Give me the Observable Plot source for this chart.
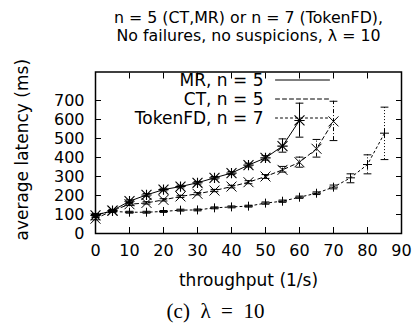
<!DOCTYPE html>
<html>
<head>
<meta charset="utf-8">
<script src="https://cdn.jsdelivr.net/npm/d3@7"></script>
<script src="https://cdn.jsdelivr.net/npm/@observablehq/plot@0.6"></script>
<style>
  html, body { margin: 0; padding: 0; background: #fff; }
  #chart svg { display: block; }
</style>
</head>
<body>
<div id="chart"></div>
<script>
// ---- data ----
const titleLine1 = "n = 5 (CT,MR) or n = 7 (TokenFD),";
const titleLine2 = "No failures, no suspicions, \u03bb = 10";
const xLabel = "throughput (1/s)";
const yLabel = "average latency (ms)";
const caption = "(c)\u2002\u03bb\u2002=\u200210";
const xTicks = [0, 10, 20, 30, 40, 50, 60, 70, 80, 90];
const yTicks = [0, 100, 200, 300, 400, 500, 600, 700];
const seriesNames = ["MR, n = 5", "CT, n = 5", "TokenFD, n = 7"];

const mrX  = [0, 5, 10, 15, 20, 25, 30, 35, 40, 45, 50, 55, 60];
const mrY  = [95, 121, 170, 203, 231, 247, 267, 293, 318, 360, 398, 460, 595];
const mrLo = [88, 115, 163, 196, 224, 240, 260, 286, 310, 350, 386, 428, 507];
const mrHi = [102, 127, 177, 210, 238, 254, 274, 300, 326, 370, 410, 498, 686];

const ctX  = [0, 5, 10, 15, 20, 25, 30, 35, 40, 45, 50, 55, 60, 65, 70];
const ctY  = [78, 120, 154, 161, 177, 195, 209, 226, 247, 270, 300, 335, 375, 446, 590];
const ctLo = [72, 114, 148, 155, 171, 189, 203, 220, 240, 262, 290, 323, 349, 402, 489];
const ctHi = [84, 126, 160, 167, 183, 201, 215, 232, 254, 278, 310, 353, 402, 495, 696];

const tokX  = [0, 5, 10, 15, 20, 25, 30, 35, 40, 45, 50, 55, 60, 65, 70, 75, 80, 85];
const tokY  = [100, 116, 112, 112, 116, 123, 124, 135, 140, 144, 160, 170, 191, 212, 244, 293, 363, 528];
const tokLo = [95, 111, 107, 107, 111, 118, 119, 130, 135, 139, 154, 164, 185, 205, 235, 267, 314, 389];
const tokHi = [105, 121, 117, 117, 121, 128, 129, 140, 145, 149, 166, 176, 197, 219, 255, 314, 414, 665];

// ---- build tables ----
const rows = (xs, ys, lo, hi) => xs.map((x, i) => ({x, y: ys[i], lo: lo[i], hi: hi[i]}));
const mr = rows(mrX, mrY, mrLo, mrHi);
const ct = rows(ctX, ctY, ctLo, ctHi);
const tok = rows(tokX, tokY, tokLo, tokHi);

const lineShape = {draw(ctx, l) { ctx.moveTo(0, 0); ctx.lineTo(0, -l); }};
const font = "DejaVu Sans";
const dashes = {mr: null, ct: "4,3", tok: "2,3"};
const errDash = {mr: null, ct: "4,2,1,2", tok: "1,2"};

function errorBars(data, dash) {
  return [
    Plot.ruleX(data, {x: "x", y1: "lo", y2: "hi", stroke: "black", strokeWidth: 1, strokeDasharray: dash}),
    Plot.vector(data, {x: "x", y: "lo", length: 7, rotate: 90, anchor: "middle", shape: lineShape, stroke: "black", strokeWidth: 1}),
    Plot.vector(data, {x: "x", y: "hi", length: 7, rotate: 90, anchor: "middle", shape: lineShape, stroke: "black", strokeWidth: 1})
  ];
}

const legendDash = [dashes.mr, dashes.ct, dashes.tok];
const legendMarks = seriesNames.flatMap((name, i) => [
  Plot.text([name], {frameAnchor: "top-right", text: d => d, dx: -138, dy: 9 + i * 19, textAnchor: "end", lineAnchor: "middle", fontSize: 17, fill: "black"}),
  Plot.vector([name], {frameAnchor: "top-right", dx: -126, dy: 8 + i * 19, length: 54, rotate: 90, anchor: "start", shape: lineShape, stroke: "black", strokeWidth: 1, strokeDasharray: legendDash[i]})
]);

const chart = Plot.plot({
  width: 415,
  height: 333,
  marginLeft: 95,
  marginRight: 14,
  marginTop: 71.5,
  marginBottom: 100,
  style: {fontFamily: font, fontSize: "16px", color: "black", background: "white"},
  x: {domain: [0, 90]},
  y: {domain: [0, 850]},
  marks: [
    // inward ticks on all four sides
    Plot.axisX(xTicks, {anchor: "bottom", tickSize: -6, fill: "none", label: null, strokeWidth: 1}),
    Plot.axisX(xTicks, {anchor: "top", tickSize: -6, fill: "none", label: null, strokeWidth: 1}),
    Plot.axisY(yTicks, {anchor: "left", tickSize: -6, fill: "none", label: null, strokeWidth: 1}),
    Plot.axisY(yTicks, {anchor: "right", tickSize: -6, fill: "none", label: null, strokeWidth: 1}),
    // tick labels
    Plot.axisX(xTicks, {anchor: "bottom", tickSize: 0, tickPadding: 11, label: null, fontSize: 16, fill: "black"}),
    Plot.axisY(yTicks, {anchor: "left", tickSize: 0, tickPadding: 11, label: null, fontSize: 16, fill: "black"}),
    Plot.frame({stroke: "black", strokeWidth: 1.5}),
    // series lines
    Plot.line(mr, {x: "x", y: "y", stroke: "black", strokeWidth: 1}),
    Plot.line(ct, {x: "x", y: "y", stroke: "black", strokeWidth: 1, strokeDasharray: dashes.ct}),
    Plot.line(tok, {x: "x", y: "y", stroke: "black", strokeWidth: 1, strokeDasharray: dashes.tok}),
    // error bars
    ...errorBars(mr, errDash.mr),
    ...errorBars(ct, errDash.ct),
    ...errorBars(tok, errDash.tok),
    // markers
    Plot.dot(mr, {x: "x", y: "y", symbol: "plus", r: 3.4, stroke: "black", strokeWidth: 1.1}),
    Plot.dot(mr, {x: "x", y: "y", symbol: "times", r: 4.6, stroke: "black", strokeWidth: 1.1}),
    Plot.dot(ct, {x: "x", y: "y", symbol: "times", r: 4.6, stroke: "black", strokeWidth: 1}),
    Plot.dot(tok, {x: "x", y: "y", symbol: "plus", r: 3, stroke: "black", strokeWidth: 1}),
    // legend
    ...legendMarks,
    // titles and labels
    Plot.text([titleLine1], {frameAnchor: "top", text: d => d, dy: -49.5, textAnchor: "middle", lineAnchor: "bottom", fontSize: 15.8, fill: "black"}),
    Plot.text([titleLine2], {frameAnchor: "top", text: d => d, dy: -31, textAnchor: "middle", lineAnchor: "bottom", fontSize: 15.8, fill: "black"}),
    Plot.text([xLabel], {frameAnchor: "bottom", text: d => d, dy: 47, textAnchor: "middle", lineAnchor: "middle", fontSize: 17, fill: "black"}),
    Plot.text([yLabel], {frameAnchor: "left", text: d => d, dx: -73, dy: -3, rotate: -90, textAnchor: "middle", lineAnchor: "middle", fontSize: 17, fill: "black"}),
    Plot.text([caption], {frameAnchor: "bottom", text: d => d, dx: -33, dy: 84, textAnchor: "middle", lineAnchor: "bottom", fontSize: 21, fontFamily: "Liberation Serif", fill: "black"})
  ]
});
document.getElementById("chart").appendChild(chart);
</script>
</body>
</html>
